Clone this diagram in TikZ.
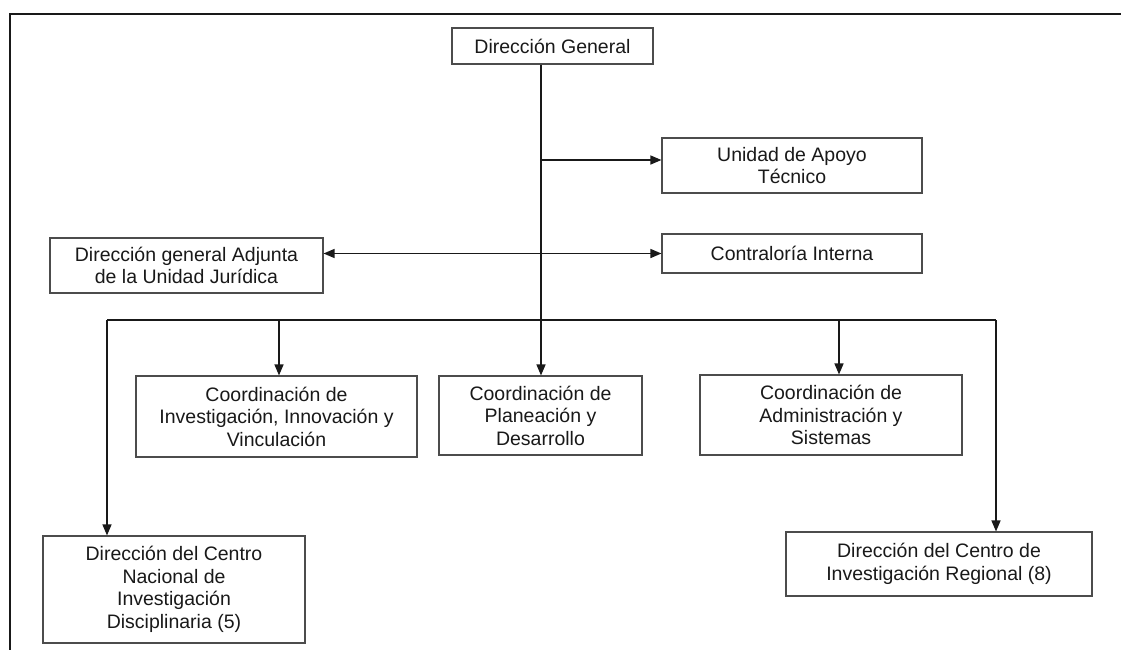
\documentclass[tikz,border=0pt]{standalone}
\usepackage{fontspec}
\setmainfont{Liberation Sans}
\usetikzlibrary{arrows.meta}
\begin{document}
\begin{tikzpicture}[x=1pt,y=-1pt,
  box/.style={draw=black!70, line width=1.1pt, inner sep=0pt, align=center,
    font=\fontsize{19.5}{22.5}\selectfont, text=black!90},
  conn/.style={line width=1.4pt, black!90},
  arr/.style={conn, -{Triangle[length=11pt,width=9pt]}},
  darr/.style={conn, {Triangle[length=11pt,width=9pt]}-{Triangle[length=11pt,width=9pt]}}]
\useasboundingbox (0,0) rectangle (1121,650);
\clip (0,0) rectangle (1121,650);
\fill[white] (0,0) rectangle (1121,650);
% frame
\draw[line width=2pt, black!90] (10,670) -- (10,14) -- (1140,14);
% boxes
\node[box, minimum width=201pt, minimum height=36pt] (dg) at (552.5,46) {Dirección General};
\node[box, minimum width=260pt, minimum height=55pt] (apoyo) at (792,165.5) {Unidad de Apoyo\\Técnico};
\node[box, minimum width=260pt, minimum height=39pt] (contra) at (792,253.5) {Contraloría Interna};
\node[box, minimum width=273pt, minimum height=55pt] (adj) at (186.5,265.5) {Dirección general Adjunta\\de la Unidad Jurídica};
\node[box, minimum width=281pt, minimum height=81pt] (inv) at (276.5,416.5) {Coordinación de\\Investigación, Innovación y\\Vinculación};
\node[box, minimum width=203pt, minimum height=79pt] (plan) at (540.5,415.5) {Coordinación de\\Planeación y\\Desarrollo};
\node[box, minimum width=262pt, minimum height=80pt] (adm) at (831,415) {Coordinación de\\Administración y\\Sistemas};
\node[box, minimum width=262pt, minimum height=107pt] (disc) at (174,589.5) {Dirección del Centro\\Nacional de\\Investigación\\Disciplinaria (5)};
\node[box, minimum width=306pt, minimum height=64pt] (reg) at (939,564) {Dirección del Centro de\\Investigación Regional (8)};
% connector points
\coordinate (tap) at (541,160);
\coordinate (busL) at (107,320);
\coordinate (busR) at (996,320);
\coordinate (busI) at (279,320);
\coordinate (busA) at (839,320);
% connectors
\draw[arr] (dg.south -| tap) -- (tap |- plan.north);
\draw[arr] (tap) -- (tap -| apoyo.west);
\draw[darr] (contra.west -| adj.east) -- (contra.west);
\draw[conn] (busL) -- (busR);
\draw[arr] (busL) -- (busL |- disc.north);
\draw[arr] (busI) -- (busI |- inv.north);
\draw[arr] (busA) -- (busA |- adm.north);
\draw[arr] (busR) -- (busR |- reg.north);
\end{tikzpicture}
\end{document}
